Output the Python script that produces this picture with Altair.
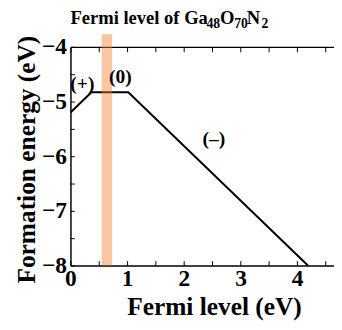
import altair as alt
import pandas as pd

# ---- data ----
line_x = [0.0, 0.37, 1.02, 4.19]
line_y = [-5.20, -4.83, -4.83, -8.0]

band_x1 = [0.55]
band_x2 = [0.735]
band_top = [-3.77]
band_bottom = [-8.0]

label_text = ["(+)", "(0)", "(\u2013)"]
label_x = [0.21, 0.88, 2.53]
label_y = [-4.68, -4.55, -5.68]

title_parts = ["Fermi level of Ga", "48", "O", "70", "N", "2"]
title_x = [0.0, 2.40, 2.64, 2.89, 3.11, 3.37]
title_y = [-3.59, -3.66, -3.59, -3.66, -3.59, -3.66]
title_size = [19, 14, 19, 14, 19, 14]

x_major = [0, 1, 2, 3, 4]
x_minor = [0, 0.5, 1, 1.5, 2, 2.5, 3, 3.5, 4, 4.5]
y_major = [-8, -7, -6, -5, -4]
y_minor = [-8, -7.5, -7, -6.5, -6, -5.5, -5, -4.5, -4]

W, H = 270, 224
FONT = "Liberation Serif"

line_df = pd.DataFrame({"x": line_x, "y": line_y})
band_df = pd.DataFrame({"x1": band_x1, "x2": band_x2, "top": band_top, "bottom": band_bottom})
label_df = pd.DataFrame({"t": label_text, "x": label_x, "y": label_y})
title_df = pd.DataFrame({"t": title_parts, "x": title_x, "y": title_y, "s": title_size})

xs = alt.Scale(domain=[0, 4.65], nice=False, zero=False)
ys = alt.Scale(domain=[-8, -4], nice=False, zero=False)

ax_x_labels = alt.Axis(
    orient="bottom", values=x_major, tickSize=0, labelPadding=1, format="d",
    labelFontSize=24, labelFont=FONT, labelFontWeight="bold", labelColor="black",
    labelFlush=False, labelOverlap=False, grid=False,
    domainColor="black", domainWidth=1.5,
    title="Fermi level (eV)", titleFont=FONT, titleFontSize=26, titleFontWeight="bold",
    titleColor="black", titleX=147, titleY=50, titleBaseline="alphabetic", titleAlign="center",
)
ax_y_labels = alt.Axis(
    orient="left", values=y_major, tickSize=0, labelPadding=4, format="d",
    labelFontSize=24, labelFont=FONT, labelFontWeight="bold", labelColor="black",
    labelFlush=False, labelOverlap=False, grid=False,
    domainColor="black", domainWidth=1.5,
    title="Formation energy (eV)", titleFont=FONT, titleFontSize=26, titleFontWeight="bold",
    titleColor="black", titleX=-37, titleY=115, titleBaseline="alphabetic", titleAlign="center",
    titleAngle=270,
)
ax_x_in_bottom = alt.Axis(
    orient="top", offset=-H, values=x_minor, tickSize=5, tickColor="black", tickWidth=1,
    labels=False, domain=False, grid=False, title="",
)
ax_x_top = alt.Axis(
    orient="bottom", offset=-H, values=x_minor, tickSize=5, tickColor="black", tickWidth=1,
    labels=False, domain=True, domainColor="black", domainWidth=1.5, grid=False, title="",
)
ax_y_in = alt.Axis(
    orient="right", offset=-W, values=y_minor, tickSize=4, tickColor="black", tickWidth=1,
    labels=False, domain=False, grid=False, title="",
)

line = alt.Chart(line_df).mark_line(color="black", strokeWidth=2).encode(
    x=alt.X("x:Q", scale=xs, axis=ax_x_in_bottom),
    y=alt.Y("y:Q", scale=ys, axis=ax_y_in),
)

band = alt.Chart(band_df).mark_rect(color="#F08030", opacity=0.45).encode(
    x=alt.X("x1:Q", scale=xs, axis=ax_x_labels),
    x2="x2:Q",
    y=alt.Y("top:Q", scale=ys, axis=ax_y_labels),
    y2="bottom:Q",
)

labels = alt.Chart(label_df).mark_text(
    font=FONT, fontWeight="bold", fontSize=20, color="black", align="center", baseline="middle"
).encode(
    x=alt.X("x:Q", scale=xs, axis=ax_x_top),
    y=alt.Y("y:Q", scale=ys, axis=None),
    text="t:N",
)

title = alt.Chart(title_df).mark_text(
    font=FONT, fontWeight="bold", color="black", align="left", baseline="alphabetic"
).encode(
    x=alt.X("x:Q", scale=xs, axis=None),
    y=alt.Y("y:Q", scale=ys, axis=None),
    text="t:N",
    size=alt.Size("s:Q", scale=None, legend=None),
)

chart = alt.layer(line, band, labels, title).resolve_axis(
    x="independent", y="independent"
).properties(
    width=W, height=H,
    padding={"left": 64, "top": 36, "right": 0, "bottom": 54},
    autosize=alt.AutoSizeParams(type="none"),
).configure_view(strokeWidth=0)

chart.save("out.html", embed_options={"renderer": "svg", "actions": False})
